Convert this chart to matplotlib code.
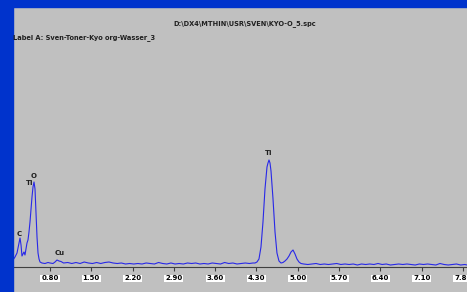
import matplotlib
matplotlib.use("Agg")
import matplotlib.pyplot as plt
from matplotlib.patches import Rectangle

# ---- data (energy in keV, counts in arbitrary units) ----
energy = [0.173, 0.207, 0.241, 0.275, 0.292, 0.309, 0.325, 0.342, 0.359, 0.376,
          0.393, 0.410, 0.427, 0.444, 0.461, 0.478, 0.495, 0.512, 0.529, 0.546,
          0.563, 0.580, 0.597, 0.614, 0.631, 0.664, 0.715, 0.766, 0.800, 0.851,
          0.885, 0.919, 0.953, 0.986, 1.03, 1.10, 1.17, 1.24, 1.31, 1.38, 1.45,
          1.52, 1.59, 1.66, 1.73, 1.80, 1.87, 1.94, 2.01, 2.08, 2.15, 2.22,
          2.29, 2.36, 2.43, 2.50, 2.57, 2.64, 2.71, 2.78, 2.85, 2.92, 2.99,
          3.06, 3.13, 3.20, 3.27, 3.34, 3.41, 3.48, 3.55, 3.62, 3.69, 3.76,
          3.83, 3.90, 3.97, 4.04, 4.11, 4.18, 4.24, 4.275, 4.308, 4.342, 4.376,
          4.410, 4.444, 4.478, 4.495, 4.512, 4.529, 4.546, 4.580, 4.614, 4.647,
          4.681, 4.715, 4.749, 4.783, 4.817, 4.851, 4.885, 4.919, 4.953, 4.986,
          5.020, 5.054, 5.10, 5.17, 5.24, 5.31, 5.38, 5.45, 5.52, 5.59, 5.66,
          5.73, 5.80, 5.87, 5.94, 6.01, 6.08, 6.15, 6.22, 6.29, 6.36, 6.43,
          6.50, 6.57, 6.64, 6.71, 6.78, 6.85, 6.92, 6.99, 7.06, 7.13, 7.20,
          7.27, 7.34, 7.41, 7.48, 7.55, 7.62, 7.69, 7.76, 7.83, 7.87]
counts = [7, 10, 14, 24, 29, 22, 11, 13, 15, 12,
          18, 24, 27, 35, 45, 58, 70, 80, 85, 78,
          55, 30, 14, 8, 5, 4, 3.5, 4.5, 4, 3.5,
          5, 7, 6, 5.5, 4, 4.5, 3.5, 4.5, 3.5, 5, 4,
          3.5, 4.5, 3.5, 4.5, 5, 4, 3.5, 4, 3, 3.5, 3,
          3.5, 3, 4, 3.5, 3, 4.5, 3.5, 3, 4, 3, 3.5,
          3, 4, 3.5, 4, 3, 3.5, 3, 4, 3.5, 3, 4.5,
          3.5, 4, 3, 3.5, 4, 3.5, 4, 4, 5, 8, 20,
          45, 78, 100, 104, 107, 104, 96, 68, 35, 14,
          6, 4, 4.5, 6, 8, 11, 15, 17, 13, 8,
          5, 3.5, 3, 2.5, 3, 3.5, 2.5, 3, 2.5, 3, 3.5,
          2.5, 3, 2.5, 3, 2, 3, 2.5, 3, 2.5, 3.5, 2.5,
          3, 2, 2.5, 3, 2.5, 3, 2.5, 2, 3, 2.5, 3,
          2.5, 2, 3.5, 2.5, 2, 2.5, 3, 2, 2.5, 2]

tick_values = [0.80, 1.50, 2.20, 2.90, 3.60, 4.30, 5.00, 5.70, 6.40, 7.10, 7.80]
tick_labels = ["0.80", "1.50", "2.20", "2.90", "3.60", "4.30", "5.00", "5.70",
               "6.40", "7.10", "7.80"]

peak_names = ["C", "Ti", "O", "Cu", "Ti"]
peak_energy = [0.275, 0.46, 0.53, 0.97, 4.51]
peak_height = [30, 81, 88, 11, 111]

title_text = "D:\\DX4\\MTHIN\\USR\\SVEN\\KYO-O_5.spc"
label_text = "Label A: Sven-Toner-Kyo org-Wasser_3"

# ---- figure ----
W, H = 467, 292
fig = plt.figure(figsize=(W / 100, H / 100), dpi=100, facecolor="#C0C0C0")

# blue window frame strips
fig.patches.append(Rectangle((0, 0), 13 / W, 1, transform=fig.transFigure,
                             color="#0033CC", zorder=0))
fig.patches.append(Rectangle((0, 1 - 7 / H), 1, 7 / H, transform=fig.transFigure,
                             color="#0033CC", zorder=0))

ax = fig.add_axes([13 / W, (H - 267) / H, (W - 13) / W, 260 / H])
ax.set_facecolor("#C0C0C0")
ax.plot(energy, counts, color="#2828E8", lw=0.8)
ax.set_xlim(0.173, 7.868)
ax.set_ylim(0, 260)

for s in ["top", "right", "left"]:
    ax.spines[s].set_visible(False)
ax.spines["bottom"].set_color("#404040")
ax.spines["bottom"].set_linewidth(0.8)
ax.set_yticks([])
ax.set_xticks(tick_values)
ax.set_xticklabels(tick_labels)
ax.tick_params(axis="x", direction="out", length=3, width=0.8, color="#404040",
               labelsize=5, pad=3)
for lab in ax.get_xticklabels():
    lab.set_fontweight("bold")
    lab.set_bbox(dict(facecolor="white", edgecolor="none", pad=0.6))

for name, e, h in zip(peak_names, peak_energy, peak_height):
    ax.text(e, h, name, ha="center", va="bottom", fontsize=5, fontweight="bold",
            color="#202020")

fig.text(245 / W, 1 - 24 / H, title_text, ha="center", va="center",
         fontsize=4.8, fontweight="bold", color="#202020")
fig.text(13 / W, 1 - 38 / H, label_text, ha="left", va="center",
         fontsize=4.8, fontweight="bold", color="#202020")

fig.savefig("out.png", dpi=100, facecolor=fig.get_facecolor())
